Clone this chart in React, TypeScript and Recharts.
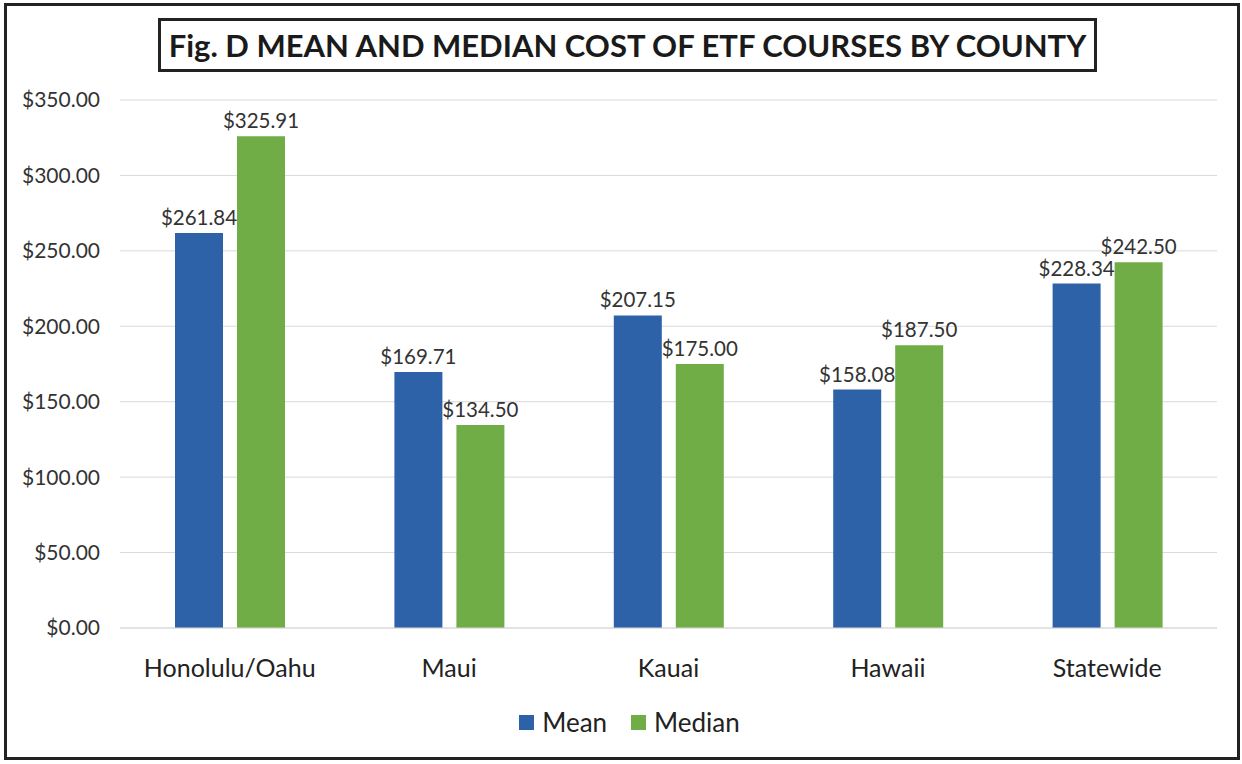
import { BarChart, Bar, XAxis, YAxis, CartesianGrid, LabelList } from "recharts";

const CONDADOS = ["Honolulu/Oahu", "Maui", "Kauai", "Hawaii", "Statewide"];
const MEDIA = [261.84, 169.71, 207.15, 158.08, 228.34];
const MEDIANA = [325.91, 134.5, 175.0, 187.5, 242.5];
const TICKS_Y = [0, 50, 100, 150, 200, 250, 300, 350];

const AZUL = "#2E62A8";
const VERDE = "#70AD47";
const FUENTE = "Lato, 'Open Sans', sans-serif";

const datos = CONDADOS.map((c, i) => ({ name: c, mean: MEDIA[i], median: MEDIANA[i] }));

const dinero = (v: unknown) => `$${Number(v).toFixed(2)}`;

function Leyenda() {
  const items = [
    { label: "Mean", color: AZUL },
    { label: "Median", color: VERDE },
  ];
  return (
    <div style={{ display: "flex", justifyContent: "center", gap: 24, paddingLeft: 17, fontFamily: FUENTE, fontSize: 26, color: "#222" }}>
      {items.map((it) => (
        <div key={it.label} style={{ display: "flex", alignItems: "center", gap: 8 }}>
          <span style={{ width: 15, height: 15, background: it.color, display: "inline-block" }} />
          <span>{it.label}</span>
        </div>
      ))}
    </div>
  );
}

export default function App() {
  return (
    <div style={{ position: "absolute", left: 0, top: 0, width: 1242, height: 764, background: "#fff" }}>
      <div
        style={{
          position: "absolute",
          left: 4,
          top: 3,
          width: 1236,
          height: 757,
          border: "3px solid #222",
          boxSizing: "border-box",
        }}
      />
      <div
        style={{
          position: "absolute",
          left: 158,
          top: 18,
          width: 939,
          height: 54,
          border: "3px solid #222",
          boxSizing: "border-box",
          display: "flex",
          alignItems: "center",
          justifyContent: "center",
          fontFamily: FUENTE,
          fontWeight: 700,
          fontSize: 31,
          color: "#1a1a1a",
          whiteSpace: "nowrap",
        }}
      >
        Fig. D MEAN AND MEDIAN COST OF ETF COURSES BY COUNTY
      </div>
      <div style={{ position: "absolute", left: 0, top: 0 }}>
        <BarChart
          width={1242}
          height={764}
          data={datos}
          margin={{ top: 100, right: 25, bottom: 106, left: 0 }}
          barGap={14}
          barSize={48}
        >
          <CartesianGrid vertical={false} stroke="#d9d9d9" />
          <XAxis
            dataKey="name"
            height={30}
            tickLine={false}
            axisLine={{ stroke: "#d9d9d9" }}
            tickSize={0}
            tickMargin={31}
            tick={{ fontSize: 25, fill: "#222", fontFamily: FUENTE }}
          />
          <YAxis
            width={120}
            domain={[0, 350]}
            ticks={TICKS_Y}
            tickFormatter={dinero}
            axisLine={false}
            tickLine={false}
            tickSize={0}
            tickMargin={20}
            tick={{ fontSize: 21, fill: "#333", fontFamily: FUENTE }}
          />
          <Bar dataKey="mean" fill={AZUL} isAnimationActive={false}>
            <LabelList dataKey="mean" position="top" offset={8} formatter={dinero} style={{ fontSize: 20.5, fill: "#333", fontFamily: FUENTE }} />
          </Bar>
          <Bar dataKey="median" fill={VERDE} isAnimationActive={false}>
            <LabelList dataKey="median" position="top" offset={8} formatter={dinero} style={{ fontSize: 20.5, fill: "#333", fontFamily: FUENTE }} />
          </Bar>
        </BarChart>
      </div>
      <div style={{ position: "absolute", left: 0, top: 706, width: 1242 }}>
        <Leyenda />
      </div>
    </div>
  );
}
